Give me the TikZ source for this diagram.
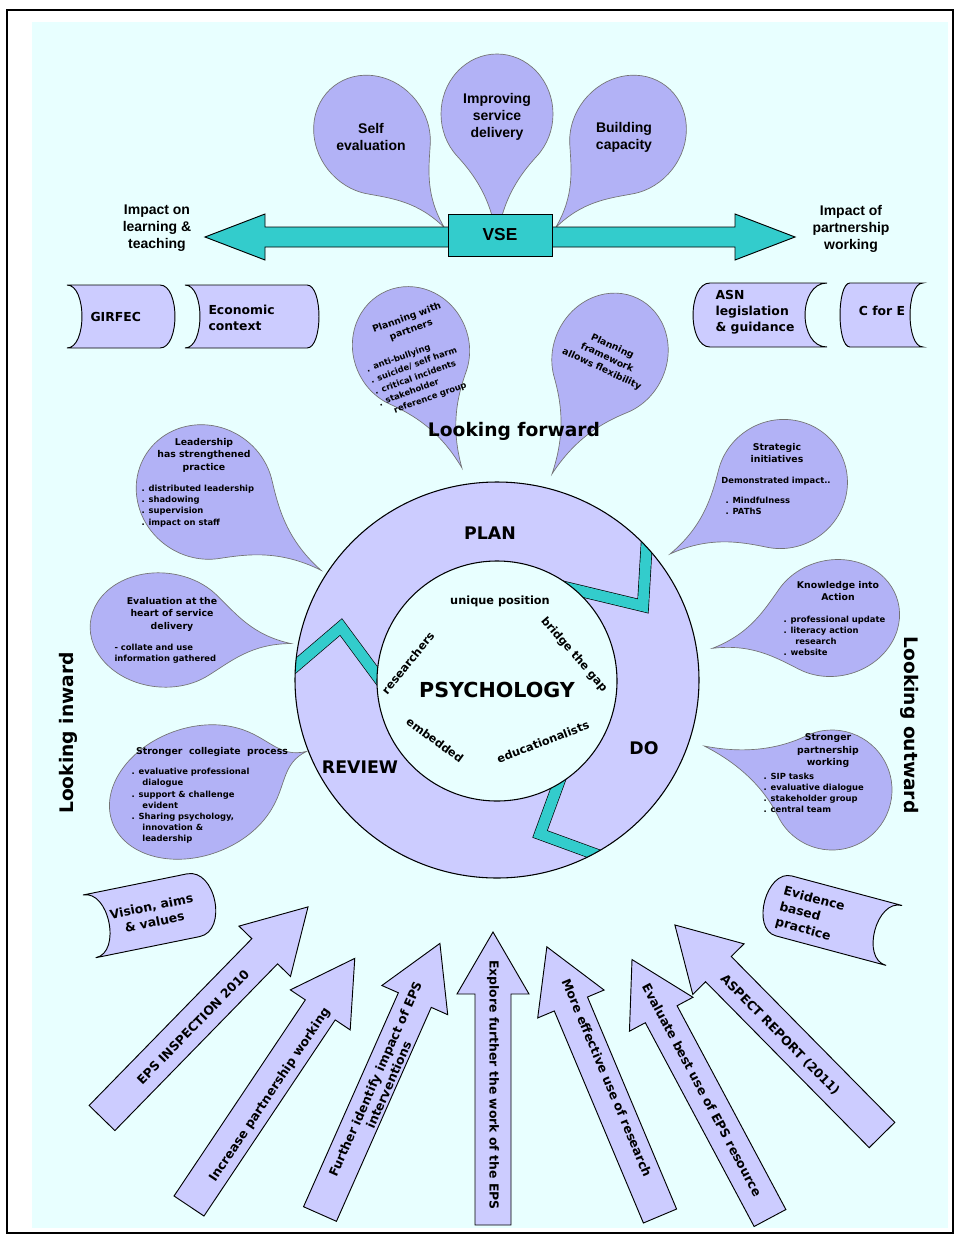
\documentclass[tikz,border=0pt]{standalone}
\usepackage{fontspec}
\setmainfont{DejaVu Sans}
\newfontfamily\narrowfont{Liberation Sans}
\usetikzlibrary{positioning}

\definecolor{bgcyan}{RGB}{232,255,255}
\definecolor{dropblue}{RGB}{178,178,246}
\definecolor{paleblue}{RGB}{204,204,255}
\definecolor{vseteal}{RGB}{51,204,204}

\tikzset{every picture/.style={line width=0.75pt}}
\tikzset{
	petal/.style={draw=black!55, fill=dropblue, line width=0.5pt},
	scrollbox/.style={draw=black, fill=paleblue, line width=0.7pt},
	bigarrow/.style={draw=black, fill=paleblue, line width=0.7pt, line join=miter},
	tealband/.style={draw=black, line width=0.5pt, double=vseteal, double distance=8pt, line join=miter},
	toptext/.style={font=\narrowfont\bfseries\fontsize{10.5}{12.75}\selectfont, align=center, inner sep=0pt},
	scrolltext/.style={font=\bfseries\fontsize{9.3}{12}\selectfont, align=left, inner sep=0pt},
	droptitle/.style={font=\bfseries\fontsize{7}{9.4}\selectfont, align=center, inner sep=0pt},
	dropitems/.style={font=\bfseries\fontsize{6.3}{8.4}\selectfont, align=left, inner sep=0pt},
	bigtext/.style={font=\bfseries\fontsize{14}{16}\selectfont, inner sep=0pt},
	ringtext/.style={font=\bfseries\fontsize{13}{15}\selectfont, inner sep=0pt},
	coretext/.style={font=\bfseries\fontsize{8.5}{10}\selectfont, inner sep=0pt},
	arrowtext/.style={font=\bfseries\fontsize{9.3}{11}\selectfont, align=center, inner sep=0pt}
}

% teardrop: centre, angle to tip, half-axis along tip, half-axis across, tip distance, style
\newcommand{\teardrop}[6]{%
	\draw[#6, shift={(#1)}, rotate=#2, xscale=#3, yscale=#4]
	(#5,0) .. controls ({#5-0.5*(#5-0.7)},{0.07*(#5-0.7)}) and (1,0.42) .. (0.707,0.707)
	arc[start angle=45, end angle=315, radius=1]
	.. controls (1,-0.42) and ({#5-0.5*(#5-0.7)},{-0.07*(#5-0.7)}) .. (#5,0) -- cycle;}

% scroll: corner, rotation, width, height, left bulge, right bulge
\newcommand{\scrollshape}[6]{%
	\draw[scrollbox, shift={(#1)}, rotate=#2]
	(0,0) -- (#3,0) .. controls ({#3+1.33*(#6)},0) and ({#3+1.33*(#6)},#4) .. (#3,#4)
	-- (0,#4) .. controls ({1.33*(#5)},#4) and ({1.33*(#5)},0) .. (0,0) -- cycle;}

% block arrow: tail centre, angle, length
\newcommand{\blockarrow}[3]{%
	\draw[bigarrow, shift={(#1)}, rotate=#2]
	(0,-18) -- ({#3-62},-18) -- ({#3-62},-36) -- (#3,0) -- ({#3-62},36) -- ({#3-62},18) -- (0,18) -- cycle;}

\begin{document}
\begin{tikzpicture}[x=0.75pt,y=0.75pt,yscale=-1,xscale=1]
	\useasboundingbox (0,0) rectangle (956,1235);
	
	% frame and background
	\draw[line width=1.2pt, fill=white] (7,10) rectangle (953,1233);
	\fill[bgcyan] (32,22) rectangle (948,1228);
	
	% VSE petals
	\teardrop{372,135}{52}{62}{56}{1.9}{petal}
	\teardrop{497,114}{90}{60}{56}{2.1}{petal}
	\teardrop{628,135}{128}{62}{56}{1.9}{petal}
	\node[toptext] (selfev) at (371,137) {Self\\evaluation};
	\node[toptext] (improve) at (497,117) {Improving\\service\\delivery};
	\node[toptext] (capacity) at (624,137) {Building\\capacity};
	
	% VSE double arrow
	\draw[draw=black, fill=vseteal, line width=0.7pt] (205,237) -- (265,214) -- (265,227) -- (735,227) -- (735,214) -- (795,237) -- (735,260) -- (735,247) -- (265,247) -- (265,260) -- cycle;
	\node[draw=black, fill=vseteal, line width=0.7pt, minimum width=78pt, minimum height=31.5pt, inner sep=0pt,
	font=\narrowfont\bfseries\fontsize{13}{15}\selectfont] (vse) at (500,235) {VSE};
	\node[toptext] (learning) at (157,228) {Impact on\\learning \&\\teaching};
	\node[toptext] (partnership) at (851,229) {Impact of\\partnership\\working};
	
	% scrolls
	\scrollshape{67,285}{0}{93}{63}{15}{15}
	\scrollshape{185,285}{0}{122}{63}{15}{12}
	\scrollshape{710,283}{0}{117}{64}{-17}{-22}
	\scrollshape{850,283}{0}{73}{64}{-10}{-13}
	\node[scrolltext, anchor=west] (girfec) at (90,317) {GIRFEC};
	\node[scrolltext, anchor=west] (economic) at (208,318) {Economic\\context};
	\node[scrolltext, anchor=west] (asn) at (715,312) {ASN\\legislation\\\& guidance};
	\node[scrolltext] (cfore) at (882,311) {C for E};
	
	% looking forward
	\teardrop{411,348}{67}{62}{58}{2.1}{petal}
	\teardrop{610,355}{116}{63}{57}{2.1}{petal}
	\node[droptitle, rotate=20] (planwith) at (409,324) {Planning with\\partners};
	\node[dropitems, rotate=20, font=\bfseries\fontsize{6.3}{9}\selectfont] (planlist) at (418,377) {. anti-bullying\\. suicide/ self harm\\. critical incidents\\. stakeholder\\\hspace*{1.4em}reference group};
	\node[droptitle, rotate=-25] (framework) at (607,358) {Planning\\framework\\allows flexibility};
	\node[bigtext] (forward) at (514,431) {Looking forward};
	
	% looking inward
	\teardrop{205,492}{34}{70}{66}{2.0}{petal}
	\teardrop{162,630}{6}{72}{57}{1.8}{petal}
	\teardrop{195,792}{-20}{88}{64}{1.35}{petal}
	\node[droptitle] (leader) at (204,455) {Leadership\\has strengthened\\practice};
	\node[dropitems, anchor=west] (leaderlist) at (141,506) {. distributed leadership\\. shadowing\\. supervision\\. impact on staff};
	\node[droptitle] (evalheart) at (172,614) {Evaluation at the\\heart of service\\delivery};
	\node[dropitems, anchor=west] (evallist) at (114,654) {- collate and use\\information gathered};
	\node[droptitle] (collegiate) at (212,752) {Stronger\ \ collegiate\ \ process};
	\node[dropitems, anchor=west] (collegelist) at (131,806) {. evaluative professional\\\hspace*{1.3em}dialogue\\. support \& challenge\\\hspace*{1.3em}evident\\. Sharing psychology,\\\hspace*{1.3em}innovation \&\\\hspace*{1.3em}leadership};
	\node[bigtext, rotate=90] (inward) at (68,733) {Looking inward};
	
	% looking outward
	\teardrop{782,484}{148}{66}{64}{2.0}{petal}
	\teardrop{834,618}{166}{66}{58}{1.9}{petal}
	\teardrop{832,790}{199}{60}{60}{2.25}{petal}
	\node[droptitle] (strategic) at (777,453) {Strategic\\initiatives};
	\node[dropitems] (impact) at (776,481) {Demonstrated impact..};
	\node[dropitems, anchor=west] (stratlist) at (725,506) {. Mindfulness\\. PAThS};
	\node[droptitle] (knowledge) at (838,591) {Knowledge into\\Action};
	\node[dropitems, anchor=west] (knowlist) at (783,636) {. professional update\\. literacy action\\\hspace*{1.4em}research\\. website};
	\node[droptitle] (strongpart) at (828,751) {Stronger\\partnership\\working};
	\node[dropitems, anchor=west] (partlist) at (763,793) {. SIP tasks\\. evaluative dialogue\\. stakeholder group\\. central team};
	\node[bigtext, rotate=-90] (outward) at (910,725) {Looking outward};
	
	% plan do review cycle
	\fill[paleblue] (497,680) ellipse[x radius=202, y radius=198];
	\begin{scope}
		\clip (497,680) ellipse[x radius=202, y radius=198];
		\draw[tealband] (648,522) -- (643,606) -- (560,586);
		\draw[tealband] (272,686) -- (341,627) -- (392,696);
		\draw[tealband] (570,752) -- (540,834) -- (622,864);
	\end{scope}
	\draw[line width=0.8pt] (497,680) ellipse[x radius=202, y radius=198];
	\draw[fill=bgcyan, line width=0.8pt] (497,681) circle[radius=120];
	\node[ringtext] (plan) at (490,533) {PLAN};
	\node[ringtext] (do) at (644,748) {DO};
	\node[ringtext] (review) at (360,767) {REVIEW};
	\node[coretext] (unique) at (500,601) {unique position};
	\node[coretext, rotate=-49] (bridge) at (574,655) {bridge the gap};
	\node[coretext, rotate=51] (researchers) at (408,663) {researchers};
	\node[font=\bfseries\fontsize{15.5}{17}\selectfont, inner sep=0pt] (psychology) at (497,690) {PSYCHOLOGY};
	\node[coretext, rotate=-36] (embedded) at (435,740) {embedded};
	\node[coretext, rotate=21] (educ) at (543,742) {educationalists};
	
	% bottom scrolls
	\scrollshape{83,895}{-11.5}{106}{64}{20}{22}
	\scrollshape{792,876}{15}{114}{62}{-20}{-20}
	\node[scrolltext, align=center, rotate=11.5] (vision) at (153,914) {Vision, aims\\\& values};
	\node[scrolltext, rotate=-15] (evidence) at (810,915) {Evidence\\based\\practice};
	
	% driver arrows
	\blockarrow{102,1118}{-45.7}{295}
	\blockarrow{189,1206}{-56.2}{298}
	\blockarrow{320,1214}{-66.1}{296}
	\blockarrow{493,1225}{-90}{293}
	\blockarrow{660,1216}{-112.8}{292}
	\blockarrow{770,1218}{-118.1}{293}
	\blockarrow{882,1135}{-134.6}{295}
	\node[arrowtext, rotate=45.7] (inspection) at (193,1027) {EPS INSPECTION 2010};
	\node[arrowtext, rotate=56.2] (increase) at (270,1095) {Increase partnership working};
	\node[arrowtext, rotate=66.1] (identify) at (382,1082) {Further identify impact of EPS\\interventions};
	\node[arrowtext, rotate=-90] (explore) at (493,1085) {Explore further the work of the EPS};
	\node[arrowtext, rotate=-67.2] (research) at (607,1078) {More effective use of research};
	\node[arrowtext, rotate=-61.9] (resource) at (702,1090) {Evaluate best use of EPS resource};
	\node[arrowtext, rotate=-45.4] (aspect) at (780,1035) {ASPECT REPORT (2011)};
	
\end{tikzpicture}
\end{document}
